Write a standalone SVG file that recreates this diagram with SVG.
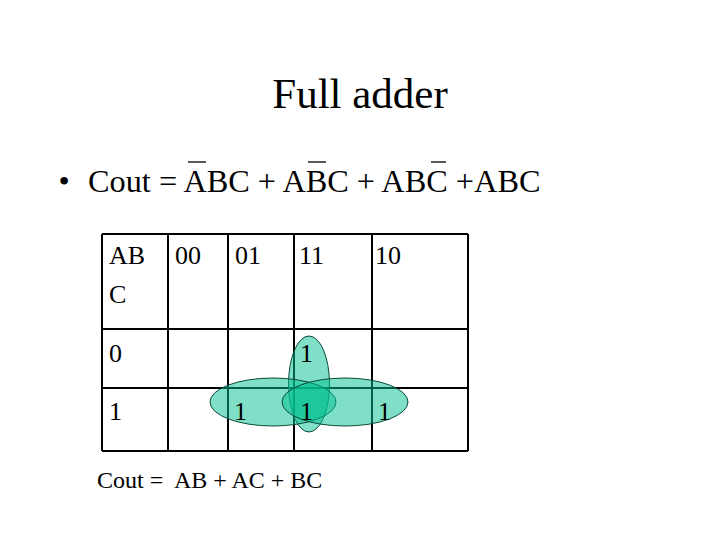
<svg xmlns="http://www.w3.org/2000/svg" width="720" height="540" viewBox="0 0 720 540">
<style>
text{font-family:"Liberation Serif","Times New Roman",serif;fill:#000}
.t{font-size:26px}
.grid line{stroke:#000;stroke-width:2}
.loop{fill:#00c090;fill-opacity:0.5;stroke:#0a4a3a;stroke-width:1}
.bar{stroke:#000;stroke-width:1.3}
</style>
<rect width="720" height="540" fill="#fff"/>
<g id="title"><text x="360" y="108" font-size="43" text-anchor="middle">Full adder</text></g>
<g id="equation">
<text x="64" y="192" font-size="32" text-anchor="middle">•</text>
<text x="88" y="192" font-size="32.3" xml:space="preserve">Cout = ABC + ABC + ABC +ABC</text>
<line class="bar" x1="188" y1="162" x2="206" y2="162"/>
<line class="bar" x1="308" y1="162" x2="326" y2="162"/>
<line class="bar" x1="431" y1="162" x2="446" y2="162"/>
</g>
<g id="kmap-grid" class="grid">
<line x1="102" y1="234" x2="468" y2="234"/>
<line x1="102" y1="329" x2="468" y2="329"/>
<line x1="102" y1="388" x2="468" y2="388"/>
<line x1="102" y1="451" x2="468" y2="451"/>
<line x1="102" y1="234" x2="102" y2="451"/>
<line x1="168" y1="234" x2="168" y2="451"/>
<line x1="228" y1="234" x2="228" y2="451"/>
<line x1="294" y1="234" x2="294" y2="451"/>
<line x1="372" y1="234" x2="372" y2="451"/>
<line x1="468" y1="234" x2="468" y2="451"/>
</g>
<g id="loops">
<ellipse id="loop-AB" class="loop" cx="309" cy="384" rx="20.5" ry="48"/>
<ellipse id="loop-BC" class="loop" cx="273" cy="402" rx="63" ry="24"/>
<ellipse id="loop-AC" class="loop" cx="345" cy="402" rx="63" ry="24"/>
</g>
<g id="kmap-labels">
<text class="t" x="109" y="264">AB</text>
<text class="t" x="109" y="303">C</text>
<text class="t" x="175" y="264">00</text>
<text class="t" x="235" y="264">01</text>
<text class="t" x="299" y="264">11</text>
<text class="t" x="375" y="264">10</text>
<text class="t" x="109" y="362">0</text>
<text class="t" x="109" y="420">1</text>
</g>
<g id="kmap-cells">
<text class="t" x="300" y="362">1</text>
<text class="t" x="234" y="420">1</text>
<text class="t" x="300" y="420">1</text>
<text class="t" x="378" y="420">1</text>
</g>
<g id="result"><text x="97" y="488" font-size="24" xml:space="preserve">Cout =  AB + AC + BC</text></g>
</svg>
